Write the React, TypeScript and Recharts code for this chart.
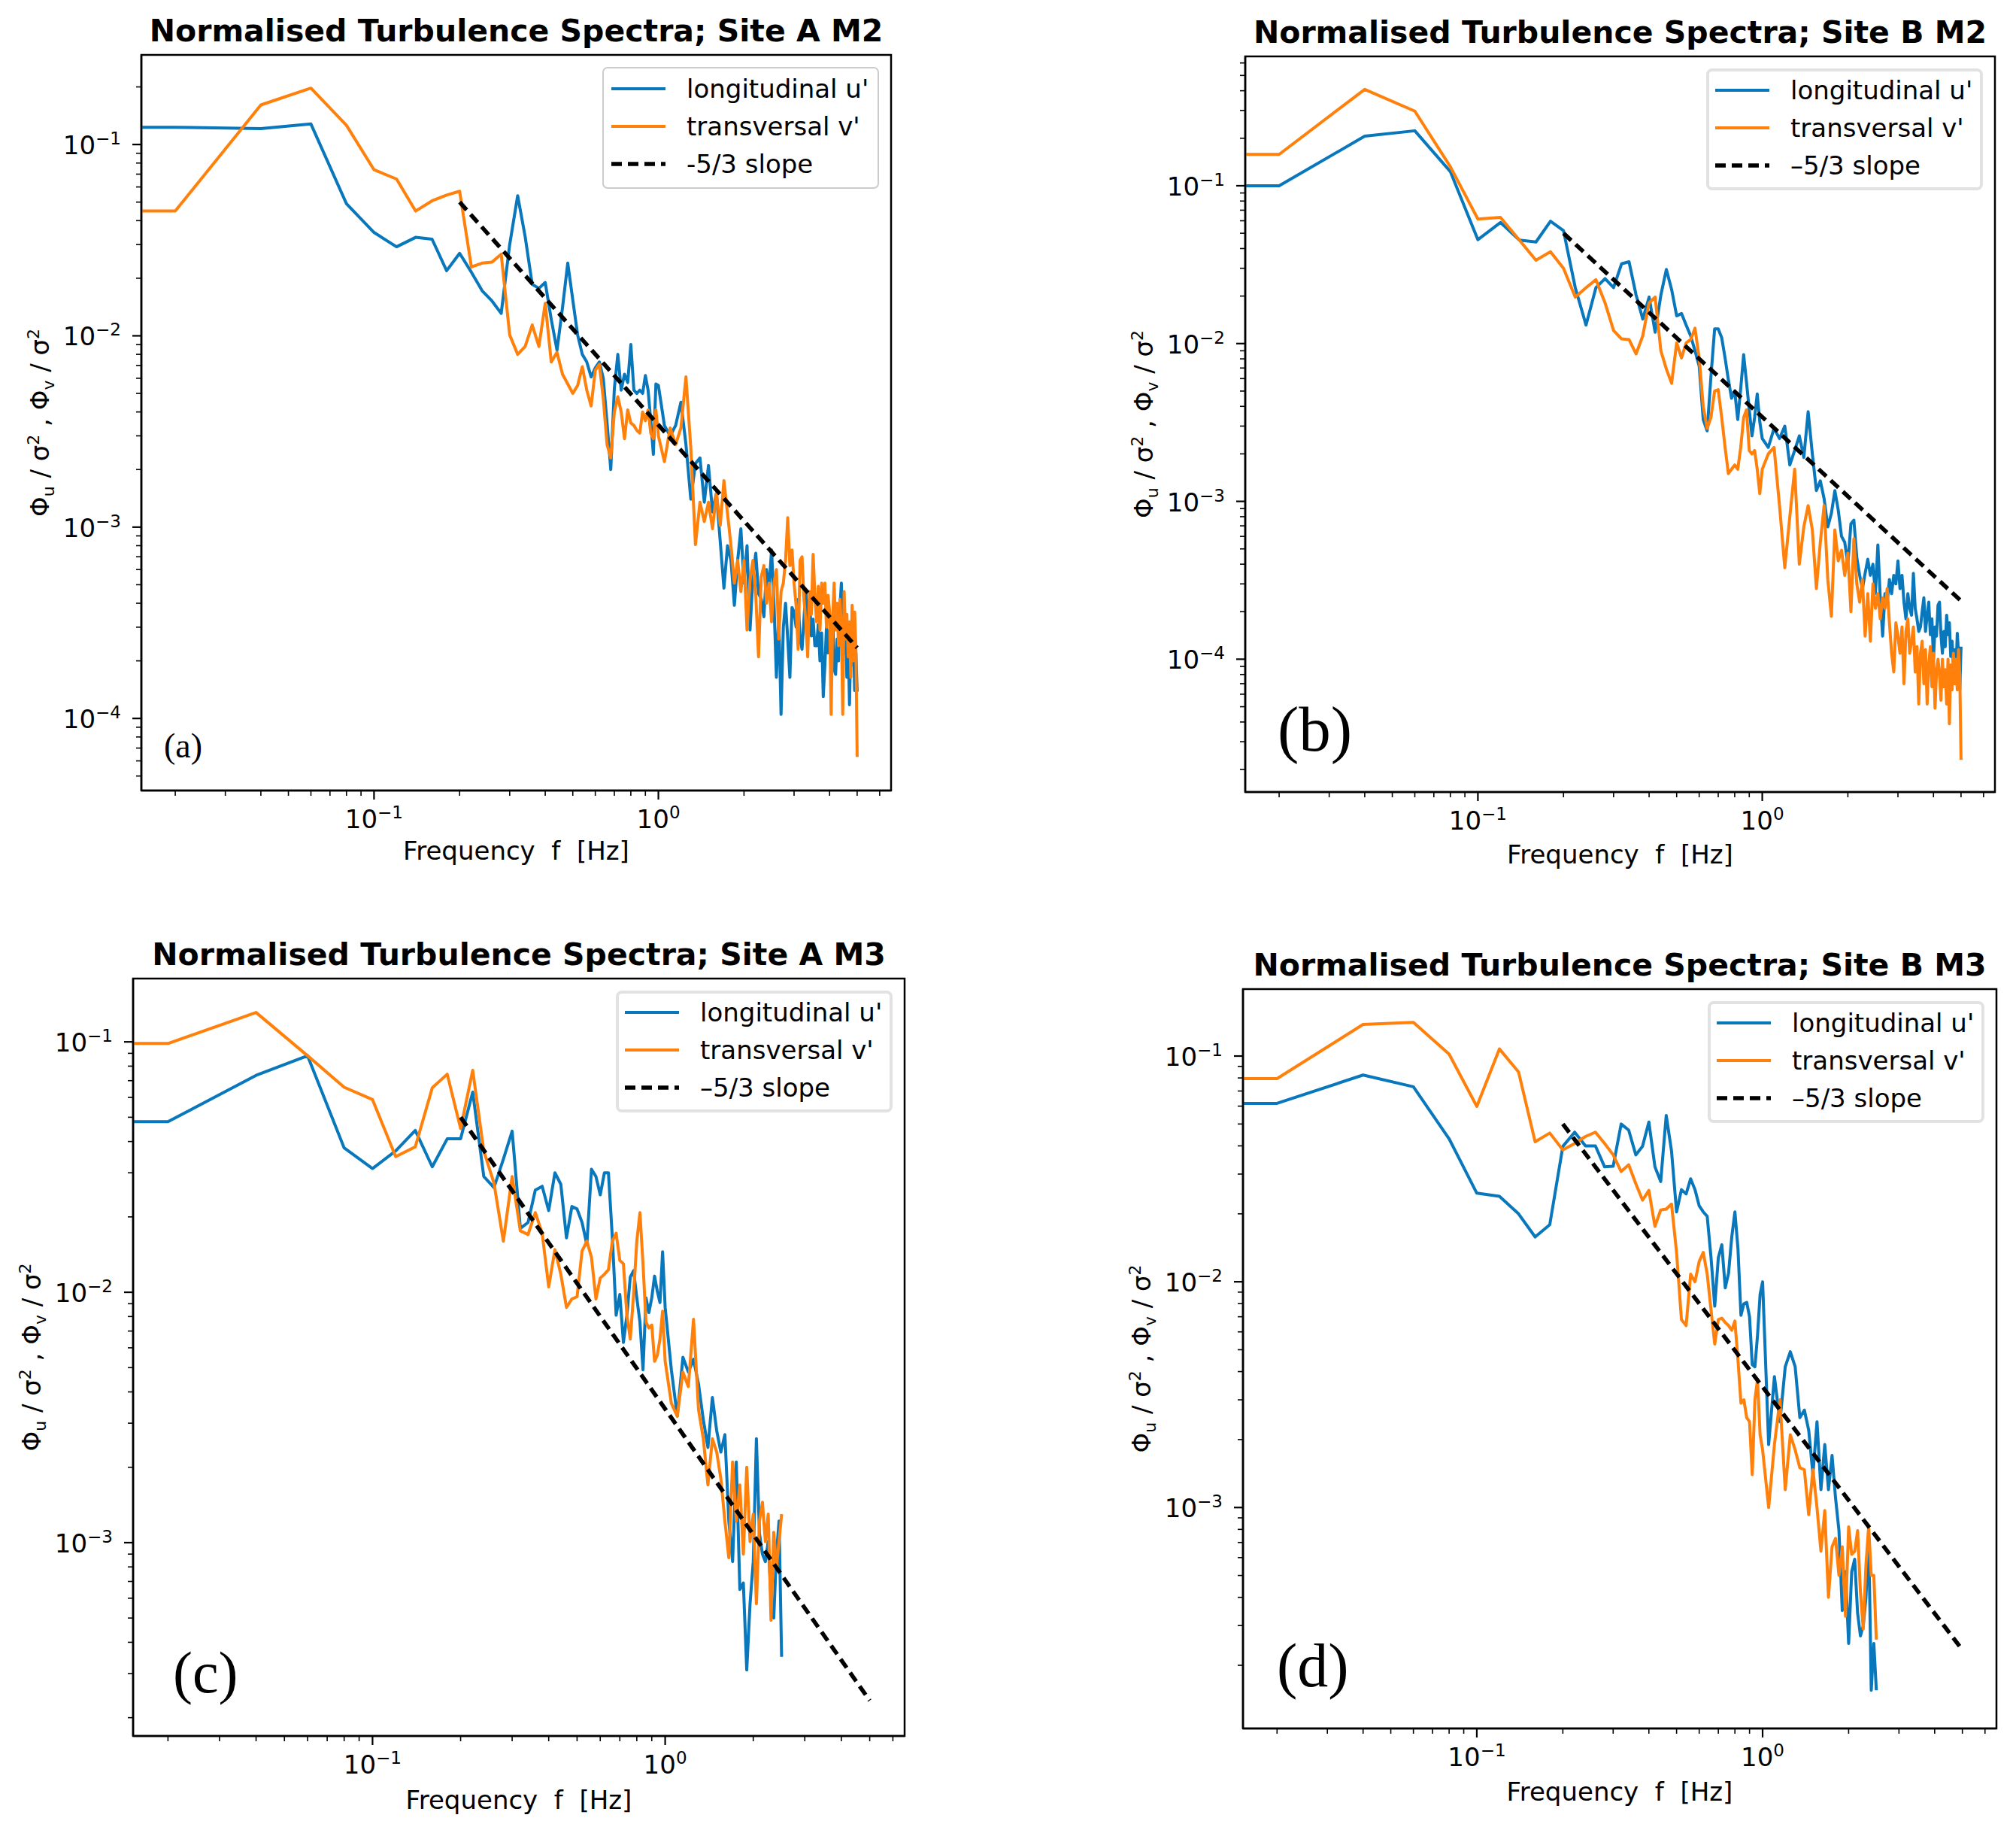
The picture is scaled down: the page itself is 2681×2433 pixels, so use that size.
import React from 'react';
import { LineChart, Line, XAxis, YAxis, Legend, ReferenceArea } from 'recharts';

// ---------------- data ----------------
// frequency grid [Hz]; first entry stands in for the zero-frequency bin (drawn off-axis, clipped)
const FREQ = [
  0.001,
  0.02, 0.04, 0.06, 0.08, 0.1, 0.12, 0.14, 0.16, 0.18, 0.2,
  0.22, 0.24, 0.26, 0.28, 0.3, 0.32, 0.34, 0.36, 0.38, 0.4,
  0.42, 0.44, 0.46, 0.48, 0.5, 0.52, 0.54, 0.56, 0.58, 0.6,
  0.62, 0.64, 0.66, 0.68, 0.7, 0.72, 0.74, 0.76, 0.78, 0.8,
  0.82, 0.84, 0.86, 0.88, 0.9, 0.92, 0.94, 0.96, 0.98, 1.0,
  1.05, 1.1, 1.15, 1.2, 1.25, 1.3, 1.35, 1.4, 1.45, 1.5,
  1.55, 1.6, 1.65, 1.7, 1.75, 1.8, 1.85, 1.9, 1.95, 2.0,
  2.05, 2.1, 2.15, 2.2, 2.25, 2.3, 2.35, 2.4, 2.45, 2.5,
  2.55, 2.6, 2.65, 2.7, 2.75, 2.8, 2.85, 2.9, 2.95, 3.0,
  3.05, 3.1, 3.15, 3.2, 3.25, 3.3, 3.35, 3.4, 3.45, 3.5,
  3.55, 3.6, 3.65, 3.7, 3.75, 3.8, 3.85, 3.9, 3.95, 4.0,
  4.05, 4.1, 4.15, 4.2, 4.25, 4.3, 4.35, 4.4, 4.45, 4.5,
  4.55, 4.6, 4.65, 4.7, 4.75, 4.8, 4.85, 4.9, 4.95, 5.0,
];

// Site A M2
const A_U = [
  0.123,
  0.123, 0.121, 0.128, 0.049, 0.0347, 0.0292, 0.0327, 0.032, 0.0219, 0.027,
  0.0215, 0.0172, 0.0152, 0.0131, 0.030, 0.054, 0.033, 0.0186, 0.0177, 0.019,
  0.0122, 0.0084, 0.014, 0.024, 0.0154, 0.0101, 0.0080, 0.0073, 0.0061, 0.0068,
  0.0073, 0.0060, 0.0035, 0.0020, 0.0053, 0.0080, 0.0052, 0.0063, 0.0057, 0.0090,
  0.0052, 0.0050, 0.0052, 0.0050, 0.0062, 0.0052, 0.0036, 0.0024, 0.0056, 0.0055,
  0.0034, 0.0030, 0.0034, 0.0045, 0.0027, 0.0014, 0.00215, 0.0023, 0.00135, 0.0021,
  0.0012, 0.0015, 0.00084, 0.00048, 0.00080, 0.00067, 0.00039, 0.00067, 0.00098, 0.00051,
  0.00080, 0.00029, 0.00055, 0.00073, 0.00045, 0.00042, 0.00034, 0.00060, 0.00048, 0.00076,
  0.00040, 0.000164, 0.00035, 0.000105, 0.00030, 0.00040, 0.00026, 0.000164, 0.00038, 0.00036,
  0.00030, 0.00042, 0.00026, 0.00023, 0.00033, 0.00047, 0.00030, 0.00042, 0.00027, 0.00033,
  0.00024, 0.00024, 0.00031, 0.00020, 0.00028, 0.00013, 0.00019, 0.00030, 0.00022, 0.00029,
  0.00021, 0.00034, 0.00018, 0.00017, 0.00026, 0.00020, 0.00038, 0.00051, 0.00030, 0.00022,
  0.00031, 0.000164, 0.00025, 0.000118, 0.00028, 0.00019, 0.00030, 0.00014, 0.00022, 0.000138,
];
const A_V = [
  0.0449,
  0.0449, 0.161, 0.197, 0.126, 0.0738, 0.066, 0.0449, 0.0508, 0.0544, 0.057,
  0.0229, 0.024, 0.0243, 0.0267, 0.0101, 0.0080, 0.0088, 0.0114, 0.0088, 0.0148,
  0.0073, 0.0082, 0.0063, 0.0056, 0.0050, 0.0055, 0.0069, 0.0052, 0.0043, 0.0066,
  0.0071, 0.0047, 0.0027, 0.0023, 0.0040, 0.0048, 0.0040, 0.0029, 0.0041, 0.0035,
  0.0034, 0.0032, 0.0031, 0.0040, 0.0036, 0.0041, 0.0031, 0.0029, 0.0041, 0.0030,
  0.0022, 0.0033, 0.0027, 0.0033, 0.0061, 0.0026, 0.00081, 0.00135, 0.00107, 0.00135,
  0.00098, 0.0015, 0.00102, 0.00175, 0.00118, 0.00080, 0.00051, 0.00067, 0.00046, 0.00067,
  0.00029, 0.00053, 0.00067, 0.00044, 0.00021, 0.00055, 0.00063, 0.00040, 0.00051, 0.00032,
  0.00051, 0.00060, 0.00026, 0.00046, 0.00051, 0.00067, 0.00112, 0.00063, 0.00076, 0.00051,
  0.00039, 0.00023, 0.00067, 0.00070, 0.00042, 0.00032, 0.00021, 0.00046, 0.00035, 0.00072,
  0.00044, 0.00032, 0.00049, 0.00029, 0.00051, 0.00040, 0.00051, 0.00030, 0.00044, 0.00036,
  0.000105, 0.00033, 0.00051, 0.00029, 0.00040, 0.00024, 0.00042, 0.00030, 0.000105, 0.00046,
  0.00026, 0.00035, 0.00021, 0.00032, 0.000164, 0.00039, 0.00020, 0.00036, 0.00023, 0.000063,
];

// Site B M2
const B_U = [
  0.100,
  0.100, 0.206, 0.223, 0.123, 0.0455, 0.0585, 0.0452, 0.044, 0.0596, 0.052,
  0.0226, 0.0131, 0.0226, 0.0258, 0.0226, 0.032, 0.033, 0.0203, 0.0143, 0.0197,
  0.0118, 0.0203, 0.0295, 0.022, 0.0150, 0.0155, 0.0131, 0.0112, 0.0090, 0.0072,
  0.0033, 0.0028, 0.0062, 0.0124, 0.0124, 0.0109, 0.0081, 0.0059, 0.0045, 0.0050,
  0.0033, 0.0052, 0.0085, 0.0057, 0.0038, 0.0026, 0.0034, 0.0048, 0.0032, 0.0025,
  0.0022, 0.0029, 0.0025, 0.0030, 0.0017, 0.0021, 0.0026, 0.0019, 0.0037, 0.0020,
  0.00117, 0.00135, 0.00104, 0.00069, 0.00084, 0.00117, 0.00088, 0.00060, 0.00055, 0.00040,
  0.00072, 0.00076, 0.00044, 0.00034, 0.00028, 0.00035, 0.00043, 0.00034, 0.00040, 0.00026,
  0.00053, 0.000245, 0.00014, 0.00026, 0.00023, 0.00032, 0.00026, 0.00034, 0.00030, 0.00042,
  0.00028, 0.00034, 0.00023, 0.00018, 0.00026, 0.00021, 0.00019, 0.00035, 0.00021, 0.00018,
  0.00015, 0.00016, 0.00020, 0.000245, 0.00015, 0.00019, 0.00023, 0.000143, 0.00018, 0.00010,
  0.00016, 0.00014, 0.00022, 0.00023, 0.000143, 0.000109, 0.00015, 0.00012, 0.00019, 0.000143,
  0.00017, 0.000104, 0.00013, 0.000092, 0.000115, 0.000083, 0.000146, 0.000109, 0.000064, 0.00012,
];
const B_V = [
  0.158,
  0.158, 0.408, 0.297, 0.132, 0.0615, 0.063, 0.0452, 0.0337, 0.0382, 0.030,
  0.0197, 0.0226, 0.0254, 0.0181, 0.0121, 0.0107, 0.0106, 0.0086, 0.0112, 0.0181,
  0.0197, 0.0090, 0.0069, 0.0056, 0.0101, 0.0081, 0.0101, 0.0106, 0.0125, 0.0081,
  0.0040, 0.0029, 0.0034, 0.0050, 0.0051, 0.0034, 0.0022, 0.0015, 0.0016, 0.0017,
  0.0016, 0.0022, 0.0034, 0.0038, 0.0021, 0.0020, 0.0021, 0.0016, 0.00112, 0.0016,
  0.0020, 0.0022, 0.00094, 0.00038, 0.0008, 0.0016, 0.0004, 0.00069, 0.00094, 0.00066,
  0.00028, 0.00055, 0.00094, 0.00032, 0.000187, 0.00066, 0.00042, 0.00049, 0.00034, 0.00047,
  0.00020, 0.00058, 0.00030, 0.00023, 0.00032, 0.00014, 0.00026, 0.00013, 0.00030, 0.00021,
  0.00026, 0.00018, 0.000245, 0.00021, 0.00028, 0.00017, 0.000109, 0.000083, 0.00017, 0.00014,
  0.000109, 0.00016, 0.00007, 0.00015, 0.00018, 0.000109, 0.00013, 0.00016, 0.000083, 0.00012,
  0.000052, 0.000109, 0.00013, 0.00007, 0.000115, 0.000052, 0.000092, 0.00012, 0.000067, 0.000109,
  0.000049, 0.000083, 0.0001, 0.00008, 0.000055, 0.0001, 0.000067, 0.000086, 0.000052, 0.0001,
  0.000039, 0.000092, 0.000064, 0.000109, 0.00007, 0.0001, 0.000064, 0.000115, 0.00008, 0.000023,
];

// Site A M3 (to 2.5 Hz)
const C_U = [
  0.048,
  0.048, 0.0735, 0.088, 0.0377, 0.0312, 0.0367, 0.0443, 0.0317, 0.041, 0.041,
  0.063, 0.029, 0.0262, 0.034, 0.044, 0.018, 0.019, 0.0256, 0.0265, 0.0212,
  0.030, 0.027, 0.0165, 0.022, 0.0215, 0.019, 0.0155, 0.031, 0.029, 0.0245,
  0.030, 0.030, 0.0165, 0.0081, 0.0098, 0.0063, 0.0081, 0.0115, 0.0122, 0.0095,
  0.0076, 0.0049, 0.0095, 0.0083, 0.0095, 0.0116, 0.0101, 0.0091, 0.0145, 0.0087,
  0.0049, 0.0032, 0.0055, 0.0048, 0.0054, 0.0043, 0.0031, 0.0024, 0.0038, 0.0028,
  0.0023, 0.0027, 0.00122, 0.00084, 0.0021, 0.00065, 0.00069, 0.00031, 0.00057, 0.00084,
  0.0026, 0.00109, 0.0009, 0.00084, 0.00101, 0.0006, 0.0005, 0.0009, 0.00122, 0.00035,
];
const C_V = [
  0.0985,
  0.0985, 0.131, 0.088, 0.0659, 0.0588, 0.0348, 0.0381, 0.0655, 0.0743, 0.0451,
  0.077, 0.0367, 0.0273, 0.016, 0.029, 0.0176, 0.017, 0.0208, 0.0172, 0.0105,
  0.0148, 0.0118, 0.0087, 0.0094, 0.0096, 0.0146, 0.0160, 0.0138, 0.0094, 0.0114,
  0.0118, 0.0123, 0.016, 0.0172, 0.0134, 0.013, 0.0081, 0.0065, 0.0098, 0.016,
  0.0208, 0.013, 0.0076, 0.0072, 0.0074, 0.0053, 0.0056, 0.0065, 0.0084, 0.0053,
  0.0036, 0.0032, 0.0048, 0.0042, 0.0078, 0.0034, 0.0026, 0.0017, 0.0026, 0.0023,
  0.0018, 0.00122, 0.00087, 0.0021, 0.00122, 0.0017, 0.0009, 0.0020, 0.00101, 0.0013,
  0.00057, 0.00122, 0.00145, 0.00101, 0.0013, 0.00049, 0.0011, 0.0008, 0.00101, 0.0013,
];

// Site B M3 (to 2.5 Hz)
const D_U = [
  0.0617,
  0.0617, 0.0824, 0.0731, 0.043, 0.0247, 0.0239, 0.020, 0.0158, 0.0179, 0.0398,
  0.046, 0.040, 0.040, 0.0323, 0.0325, 0.050, 0.047, 0.0365, 0.0398, 0.051,
  0.0323, 0.0278, 0.0546, 0.038, 0.0204, 0.0256, 0.0245, 0.0286, 0.0256, 0.0217,
  0.0204, 0.0195, 0.0128, 0.0078, 0.0128, 0.0146, 0.0094, 0.0109, 0.0158, 0.0204,
  0.014, 0.0071, 0.0080, 0.0081, 0.007, 0.0043, 0.0042, 0.0058, 0.0088, 0.0100,
  0.0019, 0.0038, 0.0024, 0.0042, 0.0049, 0.0042, 0.0025, 0.0027, 0.0022, 0.0014,
  0.0024, 0.0012, 0.0019, 0.0012, 0.0017, 0.0011, 0.00079, 0.00035, 0.00052, 0.00025,
  0.00052, 0.00059, 0.00034, 0.00027, 0.0003, 0.0004, 0.00076, 0.000155, 0.00025, 0.000155,
];
const D_V = [
  0.0795,
  0.0795, 0.138, 0.141, 0.102, 0.0598, 0.1075, 0.085, 0.0417, 0.0456, 0.0384,
  0.041, 0.044, 0.046, 0.041, 0.0365, 0.0308, 0.033, 0.0272, 0.023, 0.0254,
  0.0176, 0.0208, 0.021, 0.0221, 0.0135, 0.0068, 0.0064, 0.0108, 0.010, 0.0123,
  0.0135, 0.0108, 0.0075, 0.0053, 0.0068, 0.0069, 0.0066, 0.0064, 0.0061, 0.0067,
  0.0045, 0.0029, 0.003, 0.0025, 0.0024, 0.0014, 0.003, 0.0037, 0.0021, 0.0018,
  0.0010, 0.0019, 0.0030, 0.0012, 0.0021, 0.0018, 0.0015, 0.00147, 0.00093, 0.00147,
  0.0010, 0.00064, 0.00097, 0.0004, 0.00067, 0.00073, 0.0005, 0.00067, 0.00033, 0.00082,
  0.00062, 0.00064, 0.00079, 0.00042, 0.00029, 0.00056, 0.00082, 0.0005, 0.0005, 0.00026,
];

// -5/3 reference slope
const SLOPE_F = [0.2, 5];
const SLOPE_V = [0.05, 0.000234];

// axes
const X_DOMAIN = [0.0152, 6.58];
const X_MAJOR = [0.1, 1];
const X_MAJOR_EXP = ['\u22121', '0'];
const Y_DOMAIN_A = [4.2e-5, 0.294];
const Y_DOMAIN_B = [1.44e-5, 0.66];
const Y_DOMAIN_C = [1.69e-4, 0.179];
const Y_DOMAIN_D = [1.05e-4, 0.198];
const Y_MAJOR_M2 = [1e-4, 1e-3, 1e-2, 1e-1];
const Y_MAJOR_M2_EXP = ['\u22124', '\u22123', '\u22122', '\u22121'];
const Y_MAJOR_M3 = [1e-3, 1e-2, 1e-1];
const Y_MAJOR_M3_EXP = ['\u22123', '\u22122', '\u22121'];

// text
const TITLES = [
  'Normalised Turbulence Spectra; Site A M2',
  'Normalised Turbulence Spectra; Site B M2',
  'Normalised Turbulence Spectra; Site A M3',
  'Normalised Turbulence Spectra; Site B M3',
];
const LETTERS = ['(a)', '(b)', '(c)', '(d)'];
const NAME_U = "longitudinal u'";
const NAME_V = "transversal v'";
const SLOPE_NAMES = ['-5/3 slope', '\u20135/3 slope', '\u20135/3 slope', '\u20135/3 slope'];
const X_LABEL = 'Frequency  f  [Hz]';

// ---------------- style / layout ----------------
const FONT = 'DejaVu Sans';
const BLUE = '#0877bc';
const ORANGE = '#ff800b';
const LINE_W = 4;
const DASH_W = 5.5;
const DASH = '14 8';
const PLOT_LEFT = 170;
const PLOT_TOP = 70;
const AXIS_H = 120;
const RIGHT_PAD = 20;
const LEG_W = 368;
const LEG_H = 162;

const LAYOUTS = [
  { box: [188, 73, 1185, 1051], xlab: 92, letter: [30, 44, 46], legBorder: '#cccccc', legBorderW: 2 },
  { box: [1656, 75, 2653, 1053], xlab: 95, letter: [43, 55, 85], legBorder: '#e2e2e2', legBorderW: 4 },
  { box: [177, 1301, 1203, 2308], xlab: 97, letter: [53, 58, 78], legBorder: '#e2e2e2', legBorderW: 4 },
  { box: [1653, 1315, 2655, 2298], xlab: 96, letter: [45, 56, 82], legBorder: '#e2e2e2', legBorderW: 4 },
];

const MINOR_MULT = [2, 3, 4, 5, 6, 7, 8, 9];
function minorTicks(lo: number, hi: number) {
  const out: number[] = [];
  for (let e = Math.floor(Math.log10(lo)); e <= Math.ceil(Math.log10(hi)); e++) {
    for (const m of MINOR_MULT) {
      const t = m * Math.pow(10, e);
      if (t >= lo && t <= hi) out.push(t);
    }
  }
  return out;
}

function findMajor(majors: number[], v: number) {
  return majors.findIndex((m) => Math.abs(m - v) / m < 1e-6);
}

function makeXTick(majors: number[], exps: string[]) {
  return (props: any) => {
    const { x, y, payload } = props;
    const idx = findMajor(majors, payload.value);
    const major = idx >= 0;
    return (
      <g>
        <line x1={x} y1={y} x2={x} y2={y + (major ? 12 : 7)} stroke="#000" strokeWidth={major ? 2.2 : 1.6} />
        {major ? (
          <text x={x} y={y + 50} textAnchor="middle" fontFamily={FONT} fontSize={34} fill="#000">
            10<tspan dy={-13} fontSize={23}>{exps[idx]}</tspan>
          </text>
        ) : null}
      </g>
    );
  };
}

function makeYTick(majors: number[], exps: string[]) {
  return (props: any) => {
    const { x, y, payload } = props;
    const idx = findMajor(majors, payload.value);
    const major = idx >= 0;
    return (
      <g>
        <line x1={x} y1={y} x2={x - (major ? 12 : 7)} y2={y} stroke="#000" strokeWidth={major ? 2.2 : 1.6} />
        {major ? (
          <text x={x - 27} y={y + 13} textAnchor="end" fontFamily={FONT} fontSize={34} fill="#000">
            10<tspan dy={-13} fontSize={23}>{exps[idx]}</tspan>
          </text>
        ) : null}
      </g>
    );
  };
}

function makeLegend(order: string[], border: string, borderW: number) {
  return (props: any) => {
    const items = [...(props.payload || [])].sort(
      (a: any, b: any) => order.indexOf(a.value) - order.indexOf(b.value)
    );
    return (
      <svg width={LEG_W} height={LEG_H} style={{ display: 'block' }}>
        <rect
          x={borderW / 2}
          y={borderW / 2}
          width={LEG_W - borderW}
          height={LEG_H - borderW}
          rx={6}
          fill="rgba(255,255,255,0.85)"
          stroke={border}
          strokeWidth={borderW}
        />
        {items.map((it: any, i: number) => {
          const cy = 29 + i * 50;
          const dashed = it.color === '#000';
          return (
            <g key={i}>
              <line
                x1={12}
                x2={84}
                y1={cy}
                y2={cy}
                stroke={it.color}
                strokeWidth={dashed ? DASH_W : LINE_W}
                strokeDasharray={dashed ? DASH : undefined}
              />
              <text x={112} y={cy + 12} fontFamily={FONT} fontSize={34} fill="#000">
                {it.value}
              </text>
            </g>
          );
        })}
      </svg>
    );
  };
}

function rows(vals: number[]) {
  return vals.map((v, i) => ({ f: FREQ[i], v }));
}

function Panel(props: {
  index: number;
  u: number[];
  v: number[];
  yDomain: number[];
  yMajor: number[];
  yMajorExp: string[];
}) {
  const { index, u, v, yDomain, yMajor, yMajorExp } = props;
  const lay = LAYOUTS[index];
  const [x0, y0, x1, y1] = lay.box;
  const W = x1 - x0;
  const H = y1 - y0;
  const width = PLOT_LEFT + W + RIGHT_PAD;
  const height = PLOT_TOP + H + AXIS_H;
  const slopeRows = SLOPE_F.map((f, i) => ({ f, v: SLOPE_V[i] }));
  const xTicks = [...X_MAJOR, ...minorTicks(X_DOMAIN[0], X_DOMAIN[1])];
  const yTicks = [...yMajor, ...minorTicks(yDomain[0], yDomain[1])];
  const slopeName = SLOPE_NAMES[index];
  const cx = PLOT_LEFT + W / 2;
  const ylx = 35;
  const yly = PLOT_TOP + H / 2;
  const [ldx, ldy, lsize] = lay.letter;
  const spine = { stroke: '#000', strokeWidth: 2.5 };

  return (
    <div style={{ position: 'absolute', left: x0 - PLOT_LEFT, top: y0 - PLOT_TOP, width, height }}>
      <LineChart width={width} height={height} margin={{ top: PLOT_TOP, right: RIGHT_PAD, bottom: 0, left: 0 }}>
        <XAxis
          xAxisId="main"
          type="number"
          dataKey="f"
          scale="log"
          domain={X_DOMAIN}
          allowDataOverflow
          ticks={xTicks}
          interval={0}
          tickLine={false}
          tickSize={0}
          tickMargin={0}
          axisLine={spine}
          height={AXIS_H}
          tick={makeXTick(X_MAJOR, X_MAJOR_EXP)}
        />
        <YAxis
          yAxisId="main"
          type="number"
          dataKey="v"
          scale="log"
          domain={yDomain}
          allowDataOverflow
          ticks={yTicks}
          interval={0}
          tickLine={false}
          tickSize={0}
          tickMargin={0}
          axisLine={spine}
          width={PLOT_LEFT}
          tick={makeYTick(yMajor, yMajorExp)}
        />
        <Line
          xAxisId="main"
          yAxisId="main"
          data={rows(u)}
          dataKey="v"
          name={NAME_U}
          type="linear"
          stroke={BLUE}
          strokeWidth={LINE_W}
          strokeLinejoin="round"
          dot={false}
          activeDot={false}
          isAnimationActive={false}
        />
        <Line
          xAxisId="main"
          yAxisId="main"
          data={rows(v)}
          dataKey="v"
          name={NAME_V}
          type="linear"
          stroke={ORANGE}
          strokeWidth={LINE_W}
          strokeLinejoin="round"
          dot={false}
          activeDot={false}
          isAnimationActive={false}
        />
        <Line
          xAxisId="main"
          yAxisId="main"
          data={slopeRows}
          dataKey="v"
          name={slopeName}
          type="linear"
          stroke="#000"
          strokeWidth={DASH_W}
          strokeDasharray={DASH}
          dot={false}
          activeDot={false}
          isAnimationActive={false}
        />
        <ReferenceArea
          xAxisId="main"
          yAxisId="main"
          x1={X_DOMAIN[0]}
          x2={X_DOMAIN[1]}
          y1={yDomain[0]}
          y2={yDomain[1]}
          ifOverflow="visible"
          fill="none"
          fillOpacity={0}
          stroke="#000"
          strokeWidth={2.5}
        />
        <Legend
          layout="vertical"
          align="center"
          verticalAlign="middle"
          wrapperStyle={{
            position: 'absolute',
            left: PLOT_LEFT + W - 16 - LEG_W,
            top: PLOT_TOP + 16,
            width: LEG_W,
            height: LEG_H,
            right: 'auto',
            bottom: 'auto',
            margin: 0,
          }}
          content={makeLegend([NAME_U, NAME_V, slopeName], lay.legBorder, lay.legBorderW)}
        />
      </LineChart>
      <svg
        width={width}
        height={height}
        style={{ position: 'absolute', left: 0, top: 0, pointerEvents: 'none', overflow: 'visible' }}
      >
        <text x={cx} y={PLOT_TOP - 18} textAnchor="middle" fontFamily={FONT} fontWeight="bold" fontSize={41} fill="#000">
          {TITLES[index]}
        </text>
        <text
          x={cx}
          y={PLOT_TOP + H + lay.xlab}
          textAnchor="middle"
          fontFamily={FONT}
          fontSize={34}
          fill="#000"
          style={{ whiteSpace: 'pre' }}
        >
          {X_LABEL}
        </text>
        <text
          x={ylx}
          y={yly}
          dy={12}
          transform={`rotate(-90 ${ylx} ${yly})`}
          textAnchor="middle"
          fontFamily={FONT}
          fontSize={34}
          fill="#000"
          style={{ whiteSpace: 'pre' }}
        >
          Φ<tspan dy={7} fontSize={22}>u</tspan>
          <tspan dy={-7}> / σ</tspan>
          <tspan dy={-13} fontSize={22}>2</tspan>
          <tspan dy={13}> , Φ</tspan>
          <tspan dy={7} fontSize={22}>v</tspan>
          <tspan dy={-7}> / σ</tspan>
          <tspan dy={-13} fontSize={22}>2</tspan>
        </text>
        <text
          x={PLOT_LEFT + ldx}
          y={PLOT_TOP + H - ldy}
          fontFamily="Liberation Serif"
          fontSize={lsize}
          fill="#000"
        >
          {LETTERS[index]}
        </text>
      </svg>
    </div>
  );
}

export default function App() {
  return (
    <div
      style={{
        position: 'absolute',
        left: 0,
        top: 0,
        width: 2681,
        height: 2433,
        background: '#fff',
        overflow: 'hidden',
      }}
    >
      <Panel index={0} u={A_U} v={A_V} yDomain={Y_DOMAIN_A} yMajor={Y_MAJOR_M2} yMajorExp={Y_MAJOR_M2_EXP} />
      <Panel index={1} u={B_U} v={B_V} yDomain={Y_DOMAIN_B} yMajor={Y_MAJOR_M2} yMajorExp={Y_MAJOR_M2_EXP} />
      <Panel index={2} u={C_U} v={C_V} yDomain={Y_DOMAIN_C} yMajor={Y_MAJOR_M3} yMajorExp={Y_MAJOR_M3_EXP} />
      <Panel index={3} u={D_U} v={D_V} yDomain={Y_DOMAIN_D} yMajor={Y_MAJOR_M3} yMajorExp={Y_MAJOR_M3_EXP} />
    </div>
  );
}
